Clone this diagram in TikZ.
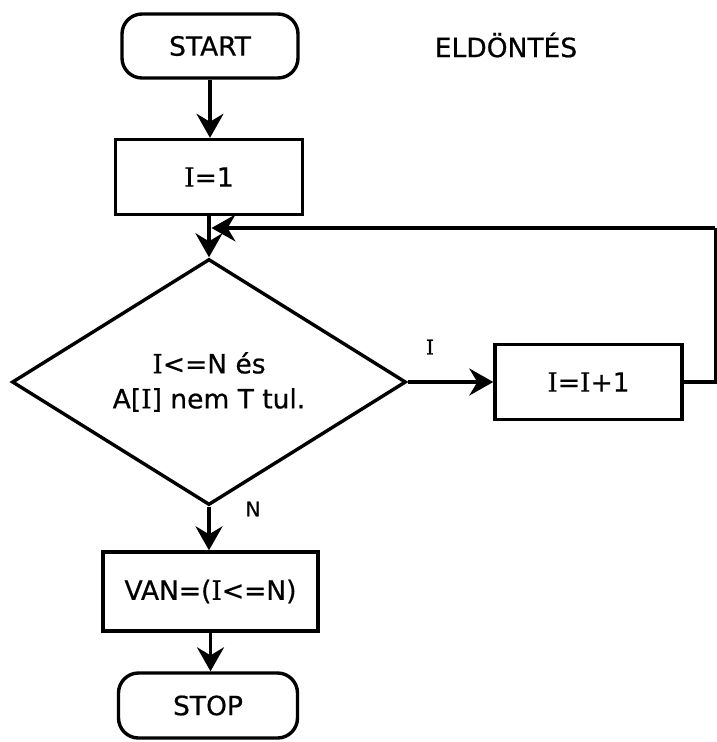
\documentclass[tikz,border=0pt]{standalone}
\usepackage{fontspec}
\setmainfont{DejaVu Sans}[FakeBold=0.6]
\newfontfamily\serifcap{DejaVu Serif}[FakeBold=0.6]
\newcommand\Ivar{{\serifcap I}}
\usetikzlibrary{arrows.meta,shapes.geometric}
\tikzset{
  flowtip/.tip={Stealth[length=24pt,width=27pt,inset=8pt]},
  flow/.style={-flowtip},
  terminal/.style={draw, rounded corners=20pt, minimum width=#1, minimum height=64pt},
  procbox/.style={draw, rectangle, minimum width=#1, minimum height=75pt},
  decision/.style={draw, diamond, aspect=1.6, minimum width=394pt, minimum height=246pt, align=center},
  edgelabel/.style={font=\fontsize{20}{24}\selectfont}
}
\begin{document}
\begin{tikzpicture}[x=1pt,y=-1pt,
  line width=3.4pt,
  every node/.style={font=\fontsize{26.5}{35}\selectfont, inner sep=0pt}
]
\useasboundingbox (0,0) rectangle (717,742);

% main column
\node[terminal=176pt] (start) at (210,46) {START};
\node (title) at (506,45) {ELDÖNTÉS};
\node[procbox=187pt] (init) at (209,177) {\Ivar=1};
\node[decision] (dec) at (209,382) {\Ivar<=N és\\A[\Ivar] nem T tul.};
\node[procbox=187pt] (inc) at (588.5,382) {\Ivar=\Ivar+1};
\node[procbox=215pt, minimum height=79pt] (van) at (210.5,591.5) {VAN=(\Ivar<=N)};
\node[terminal=179pt, minimum height=65pt] (stop) at (208,705.5) {STOP};

% branch labels
\node[edgelabel] (lbltrue) at (430,347) {\Ivar};
\node[edgelabel] (lblfalse) at (253,509) {N};

% loop back-edge corners
\coordinate (loopR) at (715.3,382);
\coordinate (loopT) at (715.3,228);
\coordinate (loopIn) at (211.5,228);

% connectors
\draw[flow] (start.south) -- (start.south |- init.north);
\draw[flow] (init.south) -- (dec.north);
\draw[flow] (dec.east) -- (inc.west);
\draw (inc.east) -- (loopR) -- (loopT);
\draw[flow] (loopT) -- (loopIn);
\draw[flow] (dec.south) -- (dec.south |- van.north);
\draw[flow] (van.south) -- (van.south |- stop.north);
\end{tikzpicture}
\end{document}
